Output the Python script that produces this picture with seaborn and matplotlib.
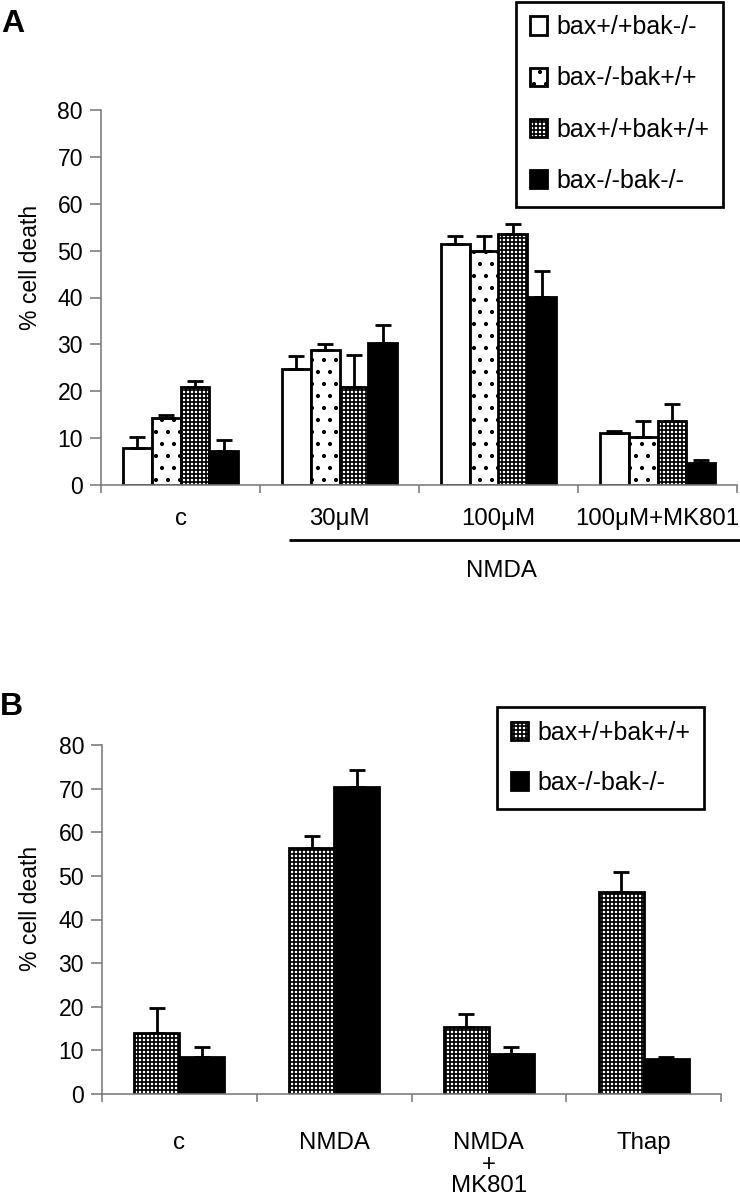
import numpy as np
import pandas as pd
import matplotlib
matplotlib.use("Agg")
import matplotlib.pyplot as plt
import matplotlib.transforms as mtransforms
from matplotlib import font_manager as fm
import seaborn as sns

# ---------------- data ----------------
cond_A = ["c", "30μM", "100μM", "100μM+MK801"]
geno_A = ["bax+/+bak-/-", "bax-/-bak+/+", "bax+/+bak+/+", "bax-/-bak-/-"]
mean_A = [
    [7.95, 24.8, 51.4, 11.1],   # bax+/+bak-/-
    [14.4, 28.9, 50.0, 10.3],   # bax-/-bak+/+
    [20.9, 20.9, 53.6, 13.7],   # bax+/+bak+/+
    [7.2, 30.3, 40.1, 4.6],     # bax-/-bak-/-
]
upper_A = [
    [10.2, 27.5, 53.1, 11.5],
    [15.0, 30.0, 53.1, 13.6],
    [22.1, 27.8, 55.6, 17.2],
    [9.6, 34.2, 45.6, 5.3],
]

cond_B = ["c", "NMDA", "NMDA\n+\nMK801", "Thap"]
geno_B = ["bax+/+bak+/+", "bax-/-bak-/-"]
mean_B = [
    [14.0, 56.4, 15.4, 46.4],
    [8.5, 70.3, 9.2, 8.1],
]
upper_B = [
    [19.7, 59.1, 18.3, 50.9],
    [10.7, 74.2, 10.7, 8.4],
]

yticks = [0, 10, 20, 30, 40, 50, 60, 70, 80]
ylabel = "% cell death"
group_label = "NMDA"

# ---------------- style ----------------
sns.set_theme(style="white")
plt.rcParams["font.family"] = ["Liberation Sans", "DejaVu Sans"]
plt.rcParams["hatch.linewidth"] = 1.7
plt.rcParams["text.color"] = "black"
plt.rcParams["axes.labelcolor"] = "black"

names = {f.name for f in fm.fontManager.ttflist}
if "Liberation Sans Narrow" in names:
    tick_family = ["Liberation Sans Narrow", "DejaVu Sans"]
    tick_size = 24
else:
    tick_family = ["Liberation Sans", "DejaVu Sans"]
    tick_size = 23

GRAY = "#7a7a7a"
styles = {
    "bax+/+bak-/-": ("white", ""),
    "bax-/-bak+/+": ("white", "."),
    "bax+/+bak+/+": ("white", "+++"),
    "bax-/-bak-/-": ("black", ""),
}

DPI = 72
W, H = 740, 1199
fig = plt.figure(figsize=(W / DPI, H / DPI), dpi=DPI)
axA = fig.add_axes([101 / W, 1 - 485 / H, 636 / W, 375 / H])
axB = fig.add_axes([102 / W, 1 - 1094 / H, 619 / W, 349 / H])


def panel(ax, conds, genos, means, uppers, width, label_pad, ylab_xy, leg_xy, leg_ls):
    rows = []
    for g, m in zip(genos, means):
        for c, v in zip(conds, m):
            rows.append({"cond": c, "geno": g, "val": v})
    df = pd.DataFrame(rows)
    sns.barplot(data=df, x="cond", y="val", hue="geno", order=conds,
                hue_order=genos, palette={g: styles[g][0] for g in genos},
                width=width, edgecolor="black", linewidth=2.8, errorbar=None,
                legend=False, saturation=1, ax=ax)
    bars = list(ax.containers)
    for cont, g, m, u in zip(bars, genos, means, uppers):
        xs = []
        for p in cont.patches:
            p.set_facecolor(styles[g][0])
            p.set_edgecolor("black")
            p.set_hatch(styles[g][1])
            xs.append(p.get_x() + p.get_width() / 2)
        m = np.asarray(m, float)
        u = np.asarray(u, float)
        ax.errorbar(xs, m, yerr=[np.zeros_like(m), u - m], fmt="none",
                    ecolor="black", elinewidth=2.8, capsize=8, capthick=2.8,
                    zorder=3)

    ax.set_xlim(-0.5, 3.5)
    ax.set_ylim(0, 80)
    ax.set_yticks(yticks)
    ax.set_xticks(range(len(conds)))
    ax.set_xticklabels(conds)
    ax.set_xticks(np.arange(-0.5, len(conds), 1), minor=True)
    for s in ["top", "right"]:
        ax.spines[s].set_visible(False)
    for s in ["left", "bottom"]:
        ax.spines[s].set_color(GRAY)
        ax.spines[s].set_linewidth(1.6)
    ax.tick_params(axis="y", left=True, length=11, width=1.6, color=GRAY,
                   pad=7, labelsize=tick_size, labelcolor="black")
    ax.tick_params(axis="x", which="major", bottom=True, length=0,
                   pad=label_pad, labelsize=24, labelcolor="black")
    ax.tick_params(axis="x", which="minor", bottom=True, length=8,
                   width=1.6, color=GRAY)
    for t in ax.get_yticklabels():
        t.set_family(tick_family)
    for t in ax.get_xticklabels():
        t.set_linespacing(0.98)
    ax.set_xlabel("")
    ax.set_ylabel(ylabel, fontsize=23)
    ax.yaxis.set_label_coords(*ylab_xy)

    leg = ax.legend(handles=bars, labels=genos, loc="upper left",
                    bbox_to_anchor=leg_xy, bbox_transform=fig.transFigure,
                    borderaxespad=0, frameon=True, fancybox=False,
                    edgecolor="black", framealpha=1, fontsize=25,
                    handlelength=0.7, handleheight=0.75, handletextpad=0.36,
                    labelspacing=leg_ls, borderpad=0.545)
    leg.get_frame().set_linewidth(2.7)
    for t in leg.get_texts():
        t.set_color("black")


panel(axA, cond_A, geno_A, mean_A, upper_A, 0.723, 23,
      (-0.0934, 0.579), (516 / W, 1 - 1.5 / H), 1.09)
panel(axB, cond_B, geno_B, mean_B, upper_B, 0.58, 38,
      (-0.0976, 0.533), (497 / W, 1 - 707 / H), 1.05)

# NMDA bracket line and label under panel A
trA = mtransforms.blended_transform_factory(axA.transData, axA.transAxes)
axA.plot([0.682, 3.53], [-0.1467, -0.1467], transform=trA, color="black",
         lw=2.8, clip_on=False, solid_capstyle="butt")
axA.text(2.02, -0.2453, group_label, transform=trA, ha="center",
         va="baseline", fontsize=24, color="black")

# panel letters
fig.text(1 / W, 1 - 32 / H, "A", fontsize=32, fontweight="bold",
         ha="left", va="baseline", color="black")
fig.text(0 / W, 1 - 715 / H, "B", fontsize=32, fontweight="bold",
         ha="left", va="baseline", color="black")

fig.savefig("out.png", dpi=DPI, facecolor="white")
